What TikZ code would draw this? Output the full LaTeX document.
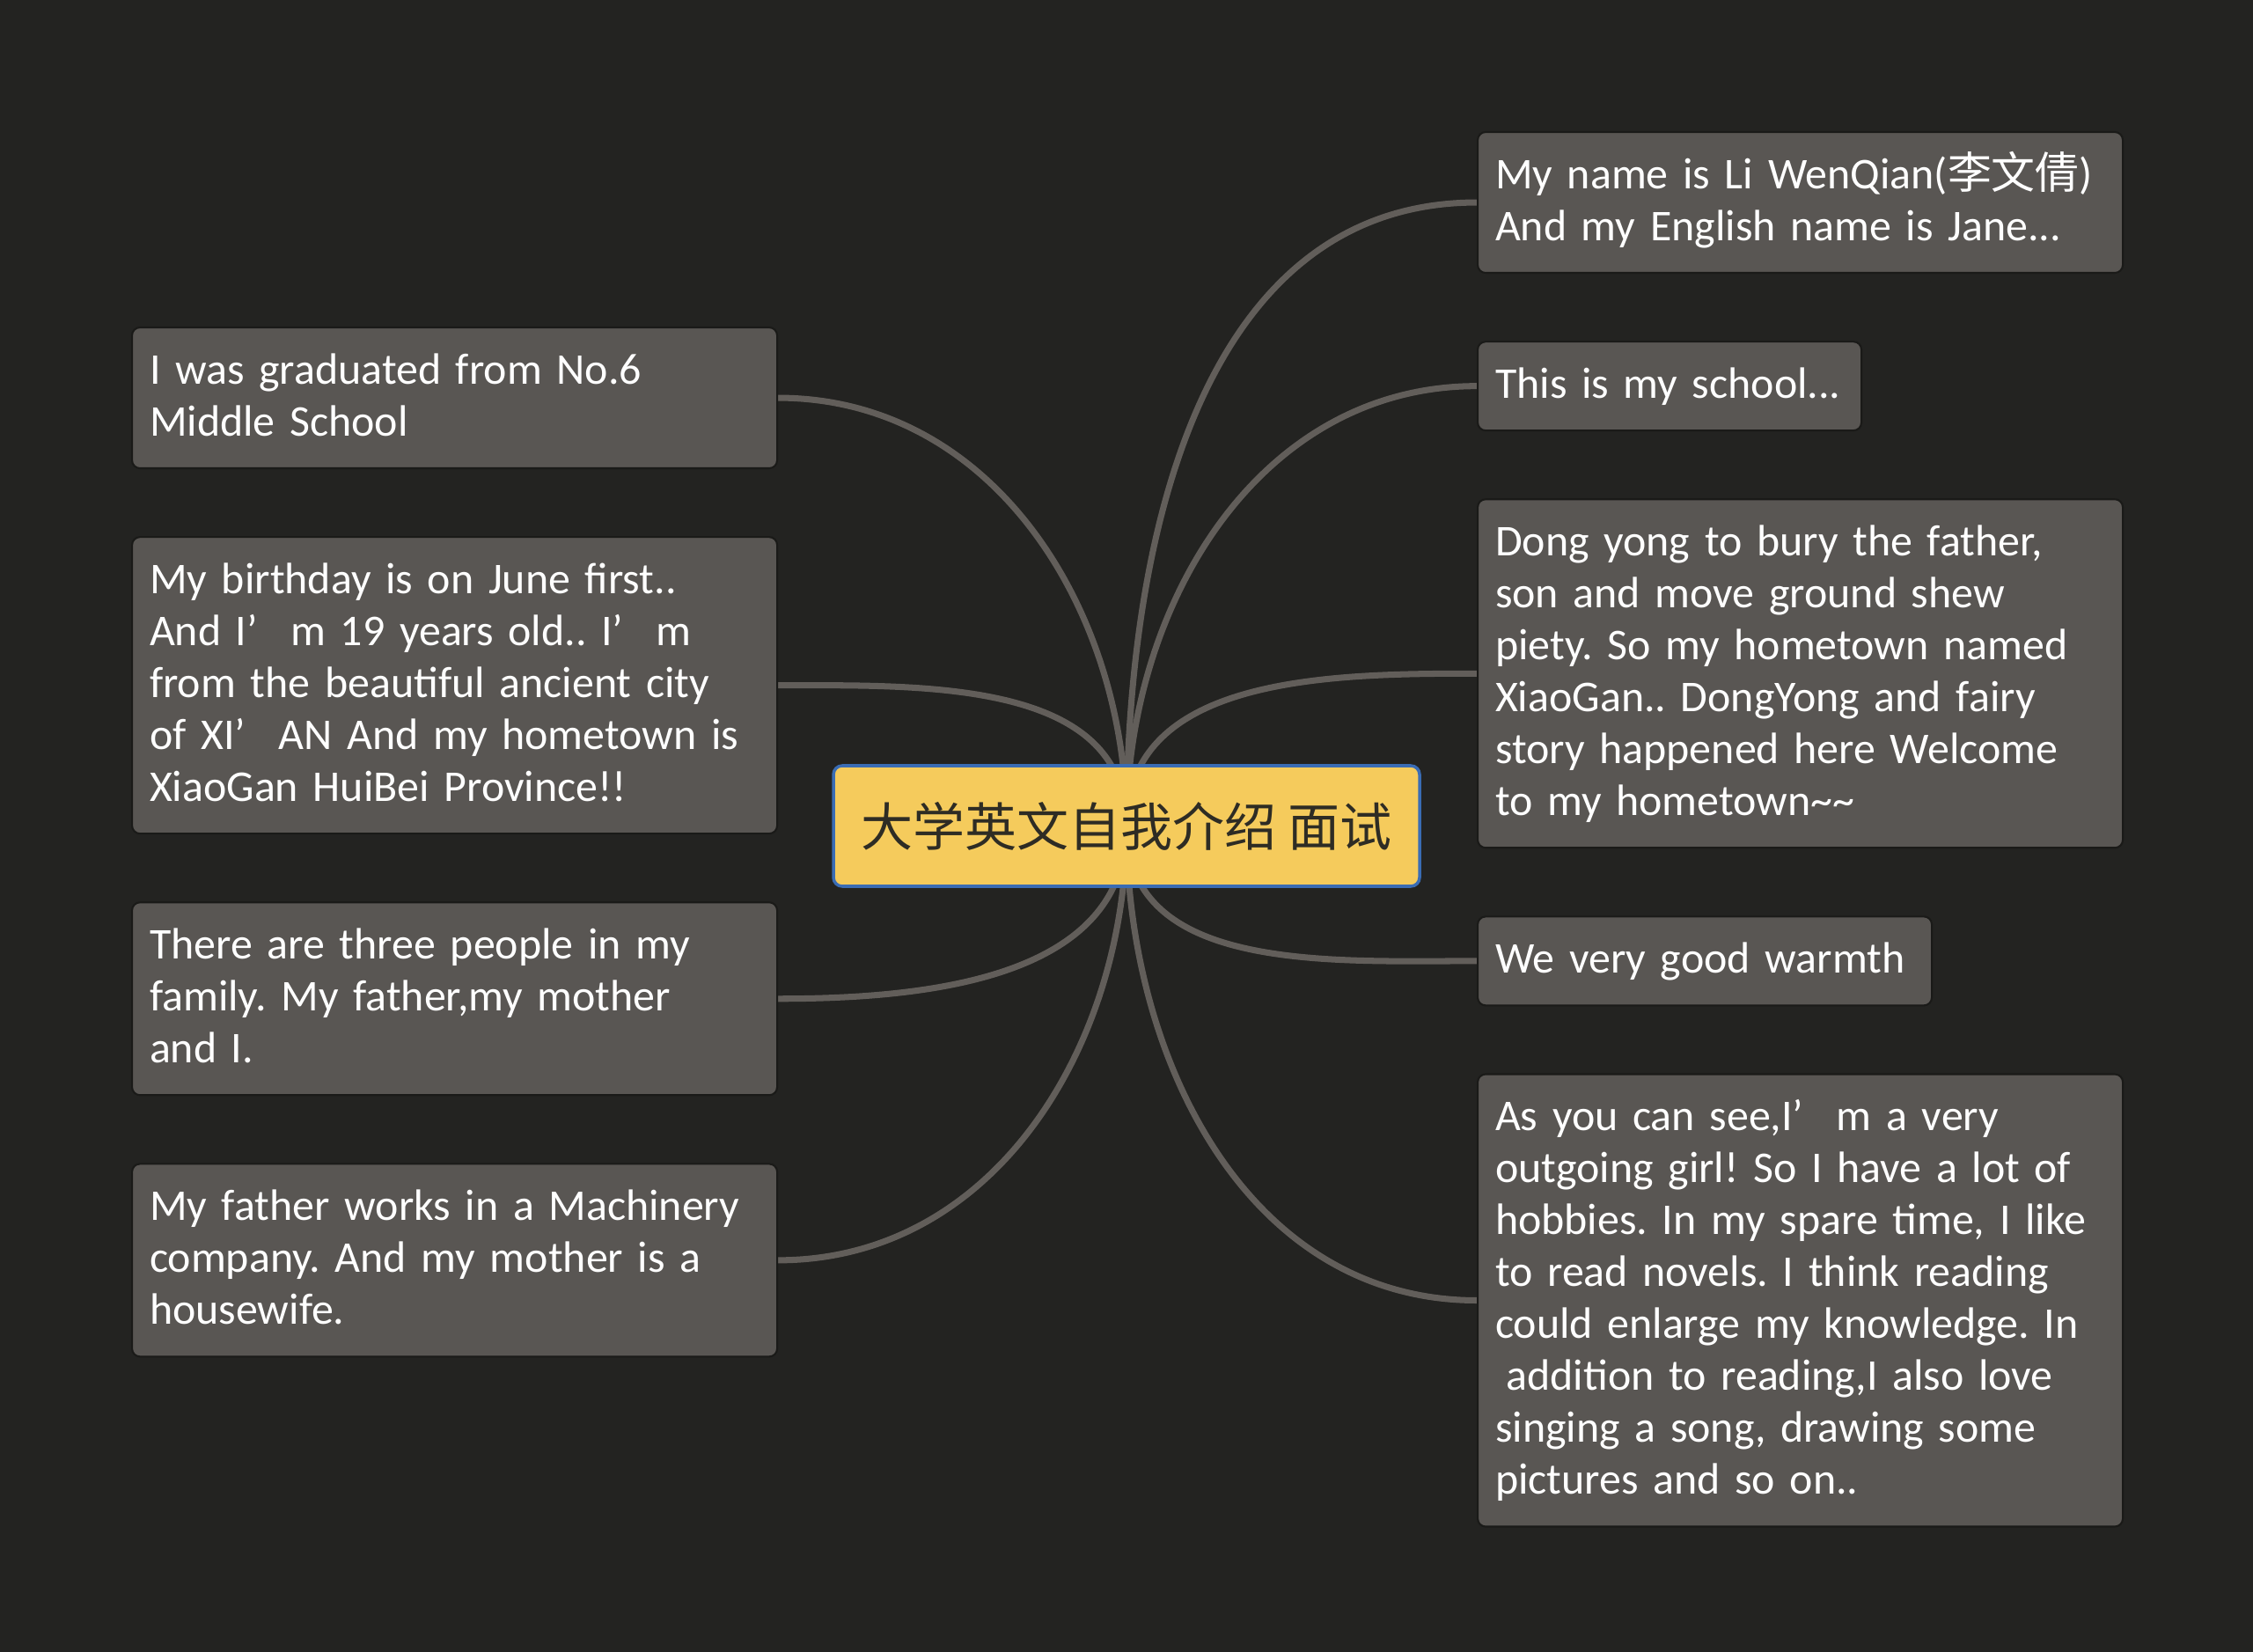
\documentclass[tikz,border=0pt]{standalone}
\usepackage{fontspec}
\setmainfont{Carlito}
\newfontfamily\cjkfont{Noto Sans CJK SC}
\usetikzlibrary{positioning,backgrounds}
\definecolor{MapBg}{HTML}{232321}
\definecolor{LeafFill}{HTML}{595653}
\definecolor{LeafEdge}{HTML}{1A1A18}
\definecolor{LinkGrey}{HTML}{625E5A}
\definecolor{RootFill}{HTML}{F5CB5C}
\definecolor{RootEdge}{HTML}{3A6CB4}
\definecolor{RootText}{HTML}{2E2C24}
\frenchspacing
\hyphenpenalty=10000
\newcommand{\leafstrut}{\rule[-0.16cm]{0pt}{0.59cm}}
\newcommand{\apos}{’\hspace{0.75em}}
\tikzset{
  leaf/.style={draw=LeafEdge,line width=0.6pt,fill=LeafFill,rounded corners=0.09cm,text=white,align=left,
    inner xsep=0.2cm,inner ysep=0.21cm,font=\fontsize{14.2pt}{0.59cm}\selectfont,
    execute at begin node=\leafstrut,execute at end node=\leafstrut},
  wide/.style={text width=6.93cm},
  root/.style={draw=RootEdge,line width=1pt,fill=RootFill,rounded corners=0.1cm,text=RootText,
    minimum width=6.66cm,minimum height=1.37cm,font=\cjkfont\fontsize{16.8pt}{20pt}\selectfont},
  link/.style={draw=LinkGrey,line width=2pt},
}
\begin{document}
\begin{tikzpicture}[node distance=0.76cm]
  \useasboundingbox (0,0) rectangle (25.6,-18.77);

  \node[root] (root) at (12.80,-9.385) {大学英文自我介绍 面试};

  % left column
  \node[leaf,wide,anchor=north west] (graduated) at (1.49,-3.71) {I was graduated from No.6\\Middle School};
  \node[leaf,wide,below=of graduated] (birthday) {My birthday is on June first..\\And I\apos m 19 years old.. I\apos m\\from the beautiful ancient city\\of XI\apos AN And my hometown is\\XiaoGan HuiBei Province!!};
  \node[leaf,wide,below=of birthday] (family) {There are three people in my\\family. My father,my mother\\and I.};
  \node[leaf,wide,below=of family] (father) {My father works in a Machinery\\company. And my mother is a\\housewife.};

  % right column
  \node[leaf,wide,anchor=north west] (name) at (16.78,-1.49) {My name is Li WenQian({\cjkfont 李文倩})\\And my English name is Jane...};
  \node[leaf,text width=3.96cm,below=of name.south west,anchor=north west] (school) {This is my school...};
  \node[leaf,wide,below=of school.south west,anchor=north west] (hometown) {Dong yong to bury the father,\\son and move ground shew\\piety. So my hometown named\\XiaoGan.. DongYong and fairy\\story happened here Welcome\\to my hometown\textasciitilde\textasciitilde};
  \node[leaf,text width=4.76cm,below=of hometown.south west,anchor=north west] (warmth) {We very good warmth};
  \node[leaf,wide,below=of warmth.south west,anchor=north west] (hobbies) {As you can see,I\apos m a very\\outgoing girl! So I have a lot of\\hobbies. In my spare time, I like\\to read novels. I think reading\\could enlarge my knowledge. In\\\hspace{0.25em}addition to reading,I also love\\singing a song, drawing some\\pictures and so on..};

  % links, behind the root
  \begin{scope}[on background layer]
    \fill[MapBg] (0,0) rectangle (25.6,-18.77);
    \draw[link] (root.center) to[out=90,in=0] (graduated.east);
    \draw[link] (root.center) to[out=90,in=0] (birthday.east);
    \draw[link] (root.center) to[out=-90,in=0] (family.east);
    \draw[link] (root.center) to[out=-90,in=0] (father.east);
    \draw[link] (root.center) to[out=90,in=180] (name.west);
    \draw[link] (root.center) to[out=90,in=180] (school.west);
    \draw[link] (root.center) to[out=90,in=180] (hometown.west);
    \draw[link] (root.center) to[out=-90,in=180] (warmth.west);
    \draw[link] (root.center) to[out=-90,in=180] (hobbies.west);
  \end{scope}
\end{tikzpicture}
\end{document}
